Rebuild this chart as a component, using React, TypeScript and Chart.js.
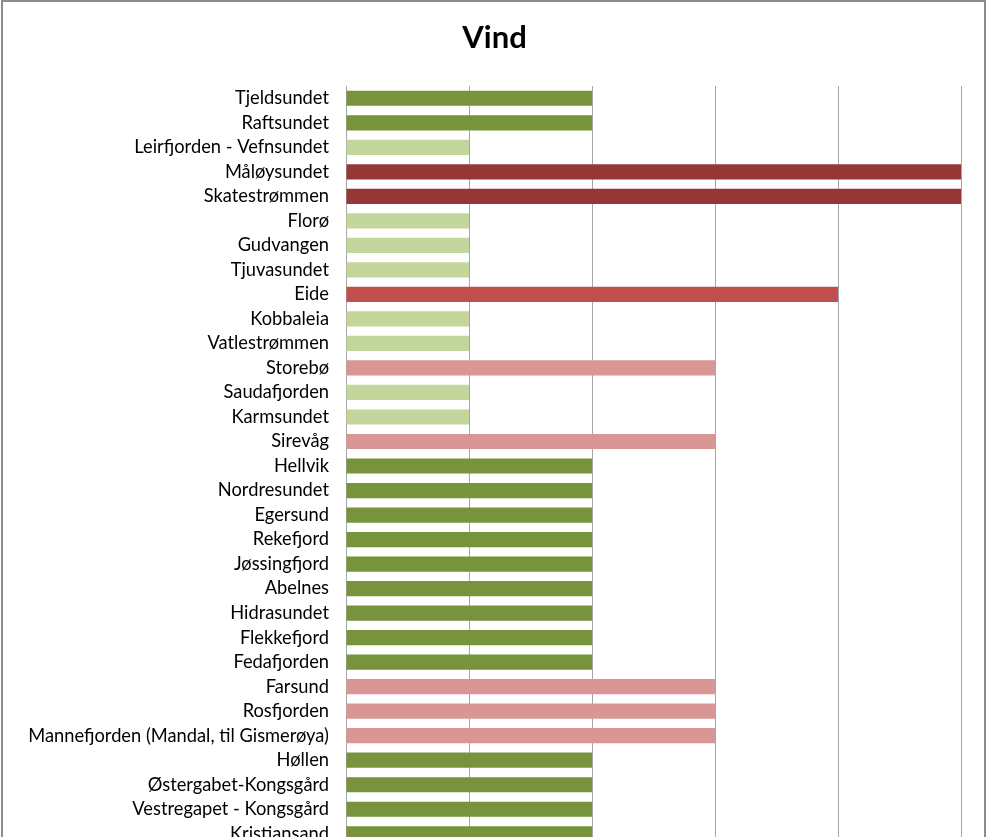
import React, { useEffect, useRef } from "react";
import { Chart, registerables } from "chart.js";

Chart.register(...registerables);

const categories: string[] = [
  "Tjeldsundet",
  "Raftsundet",
  "Leirfjorden - Vefnsundet",
  "Måløysundet",
  "Skatestrømmen",
  "Florø",
  "Gudvangen",
  "Tjuvasundet",
  "Eide",
  "Kobbaleia",
  "Vatlestrømmen",
  "Storebø",
  "Saudafjorden",
  "Karmsundet",
  "Sirevåg",
  "Hellvik",
  "Nordresundet",
  "Egersund",
  "Rekefjord",
  "Jøssingfjord",
  "Abelnes",
  "Hidrasundet",
  "Flekkefjord",
  "Fedafjorden",
  "Farsund",
  "Rosfjorden",
  "Mannefjorden (Mandal, til Gismerøya)",
  "Høllen",
  "Østergabet-Kongsgård",
  "Vestregapet - Kongsgård",
  "Kristiansand",
];

const values: number[] = [
  2, 2, 1, 5, 5, 1, 1, 1, 4, 1, 1, 3, 1, 1, 3, 2, 2, 2, 2, 2, 2, 2, 2, 2, 3, 3, 3, 2, 2, 2, 2,
];

// colour per level 1..5
const levelColors: string[] = ["#C3D69B", "#77933C", "#D99694", "#C0504D", "#953735"];

const TITLE = "Vind";
const FONT = "Lato, 'Open Sans', sans-serif";

const titlePlugin = {
  id: "centerTitle",
  afterDraw(chart: any) {
    const ctx = chart.ctx;
    ctx.save();
    ctx.fillStyle = "#000";
    ctx.font = `bold 31px ${FONT}`;
    ctx.textAlign = "center";
    ctx.textBaseline = "middle";
    ctx.fillText(TITLE, chart.width / 2, 38);
    ctx.restore();
  },
};

export default function App() {
  const ref = useRef<HTMLCanvasElement | null>(null);

  useEffect(() => {
    if (!ref.current) return;
    const colors = values.map((v) => levelColors[v - 1]);
    const chart = new Chart(ref.current, {
      type: "bar",
      data: {
        labels: categories,
        datasets: [
          {
            label: TITLE,
            data: values,
            backgroundColor: colors,
            borderWidth: 0,
            barPercentage: 0.62,
            categoryPercentage: 1,
          },
        ],
      },
      plugins: [titlePlugin],
      options: {
        indexAxis: "y",
        animation: false,
        responsive: false,
        maintainAspectRatio: false,
        layout: { padding: { left: 0, right: 28, top: 86, bottom: 0 } },
        plugins: {
          legend: { display: false },
          tooltip: { enabled: false },
          title: { display: false },
        },
        scales: {
          x: {
            min: 0,
            max: 5,
            afterFit: (scale: any) => {
              scale.height = 0;
            },
            ticks: { display: false, stepSize: 1 },
            grid: { color: "#a6a6a6", lineWidth: 1, drawTicks: false },
            border: { display: false },
          },
          y: {
            afterFit: (scale: any) => {
              scale.width = 346;
            },
            ticks: {
              color: "#000",
              padding: 17,
              autoSkip: false,
              font: { family: FONT, size: 18.3 },
            },
            grid: { display: false, drawTicks: false },
            border: { display: true, color: "#a6a6a6", width: 1 },
          },
        },
      },
    });
    return () => chart.destroy();
  }, []);

  return (
    <div
      style={{
        position: "absolute",
        left: 0,
        top: 0,
        width: 989,
        height: 837,
        overflow: "hidden",
        background: "#fff",
      }}
    >
      <canvas ref={ref} width={989} height={874} style={{ display: "block" }} />
      <div
        style={{
          position: "absolute",
          left: 1,
          top: 0,
          width: 985,
          height: 900,
          border: "2px solid #8c8c8c",
          boxSizing: "border-box",
          pointerEvents: "none",
        }}
      />
    </div>
  );
}
